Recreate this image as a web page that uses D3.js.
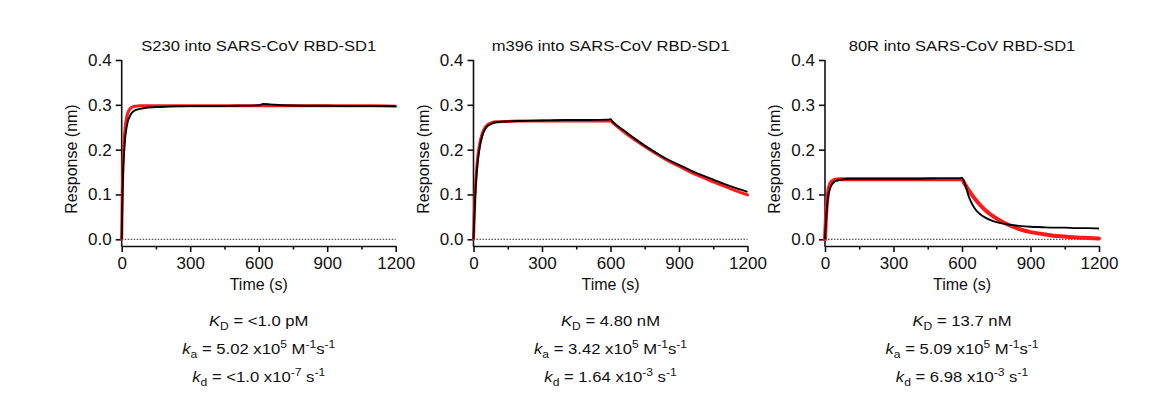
<!DOCTYPE html>
<html>
<head>
<meta charset="utf-8">
<script src="https://cdn.jsdelivr.net/npm/d3@7"></script>
<style>
  html, body { margin: 0; padding: 0; background: #fff; }
  svg { display: block; }
  text { font-family: "Liberation Sans", Arial, sans-serif; fill: #111; }
</style>
</head>
<body>
<svg id="chart" width="1169" height="417"></svg>
<script>
// ---------- data ----------
const panelTitles = [
  "S230 into SARS-CoV RBD-SD1",
  "m396 into SARS-CoV RBD-SD1",
  "80R into SARS-CoV RBD-SD1"
];
const timeTicks = [0, 300, 600, 900, 1200];
const timeMinorTicks = [150, 450, 750, 1050];
const responseTicks = [0, 0.1, 0.2, 0.3, 0.4];
const xTitle = "Time (s)";
const yTitle = "Response (nm)";

// S230
const s230Time = [0,3,6,10,15,20,25,30,40,50,60,80,100,150,200,300,400,500,600,620,650,700,800,900,1000,1100,1200];
const s230Measured = [0,0.09,0.15,0.19,0.225,0.245,0.259,0.268,0.279,0.285,0.288,0.291,0.293,0.295,0.296,0.297,0.297,0.298,0.299,0.302,0.301,0.299,0.298,0.298,0.297,0.297,0.297];
const s230Fit = [0,0.11,0.17,0.215,0.248,0.267,0.279,0.286,0.293,0.296,0.297,0.298,0.298,0.298,0.298,0.298,0.298,0.298,0.298,0.298,0.298,0.298,0.298,0.298,0.298,0.298,0.297];

// m396
const m396Time = [0,3,6,10,15,20,30,40,50,60,80,100,150,200,300,400,500,590,600,610,650,700,750,800,850,900,950,1000,1050,1100,1150,1200];
const m396Measured = [0,0.04,0.08,0.12,0.155,0.18,0.213,0.233,0.245,0.252,0.258,0.261,0.263,0.264,0.265,0.266,0.266,0.267,0.268,0.262,0.246,0.227,0.209,0.193,0.178,0.166,0.154,0.143,0.133,0.123,0.114,0.106];
const m396Fit = [0,0.05,0.09,0.13,0.165,0.19,0.22,0.238,0.249,0.255,0.26,0.262,0.263,0.264,0.264,0.264,0.264,0.264,0.264,0.26,0.243,0.224,0.207,0.191,0.176,0.163,0.15,0.139,0.128,0.118,0.108,0.099];

// 80R
const r80Time = [0,3,6,10,15,20,30,40,50,60,80,100,200,300,400,500,590,600,610,620,630,645,660,680,700,740,800,850,900,950,1000,1050,1100,1150,1200];
const r80Measured = [0,0.03,0.055,0.08,0.1,0.11,0.122,0.128,0.131,0.132,0.134,0.135,0.135,0.135,0.135,0.136,0.136,0.137,0.128,0.112,0.095,0.078,0.066,0.056,0.049,0.04,0.033,0.03,0.028,0.027,0.026,0.026,0.025,0.025,0.024];
const r80Fit = [0,0.035,0.065,0.09,0.11,0.12,0.129,0.132,0.133,0.134,0.134,0.134,0.134,0.134,0.134,0.134,0.134,0.134,0.125,0.117,0.109,0.098,0.088,0.076,0.066,0.05,0.033,0.023,0.016,0.012,0.008,0.006,0.004,0.003,0.002];

// kinetic constants
const KD = ["<1.0 pM", "4.80 nM", "13.7 nM"];
const kaMantissa = ["5.02", "3.42", "5.09"];
const kaExponent = ["5", "5", "5"];
const kdMantissa = ["<1.0", "1.64", "6.98"];
const kdExponent = ["-7", "-3", "-3"];

// ---------- layout ----------
const panelLeft = [121.7, 473.5, 825];
const plotW = 274;
const yTop = 60, yZero = 239.3, xAxisY = 246;
const fitWidths = [3, 3, 4];

const svg = d3.select("#chart");

const panels = [
  { t: s230Time, m: s230Measured, f: s230Fit },
  { t: m396Time, m: m396Measured, f: m396Fit },
  { t: r80Time, m: r80Measured, f: r80Fit }
];

panels.forEach((p, i) => {
  const x = d3.scaleLinear().domain([0, 1200]).range([panelLeft[i], panelLeft[i] + plotW]);
  const y = d3.scaleLinear().domain([0, 0.4]).range([yZero, yTop]);
  const g = svg.append("g");
  const cx = (x(0) + x(1200)) / 2;

  // title
  g.append("text")
    .attr("transform", `translate(${cx},51) scale(1.07,1)`)
    .attr("text-anchor", "middle")
    .style("font-size", "15.5px")
    .text(panelTitles[i]);

  // dotted zero baseline
  g.append("line")
    .attr("x1", x(0)).attr("x2", x(1200))
    .attr("y1", y(0)).attr("y2", y(0))
    .attr("stroke", "#555").attr("stroke-width", 1.3)
    .attr("stroke-dasharray", "1.5,1.5");

  // x axis
  const xa = g.append("g").attr("transform", `translate(0,${xAxisY})`)
    .call(d3.axisBottom(x).tickValues(timeTicks).tickSize(6).tickSizeOuter(0).tickPadding(5).tickFormat(d3.format("d")));
  xa.select(".domain").attr("stroke", "#111").attr("stroke-width", 1.6);
  xa.selectAll(".tick line").attr("stroke", "#111").attr("stroke-width", 1.6);
  xa.selectAll(".tick text").style("font-size", "17px").attr("fill", "#111")
    .attr("font-family", null);
  const xm = g.append("g").attr("transform", `translate(0,${xAxisY})`)
    .call(d3.axisBottom(x).tickValues(timeMinorTicks).tickSize(3.5).tickFormat(""));
  xm.select(".domain").remove();
  xm.selectAll(".tick line").attr("stroke", "#111").attr("stroke-width", 1.6);

  // y axis
  const ya = g.append("g").attr("transform", `translate(${x(0)},0)`)
    .call(d3.axisLeft(y).tickValues(responseTicks).tickSize(6).tickPadding(4).tickFormat(d3.format(".1f")));
  ya.select(".domain").remove();
  ya.selectAll(".tick line").attr("stroke", "#111").attr("stroke-width", 1.6);
  ya.selectAll(".tick text").style("font-size", "17px").attr("fill", "#111");
  g.append("line")
    .attr("x1", x(0)).attr("x2", x(0))
    .attr("y1", y(0.4)).attr("y2", xAxisY + 0.8)
    .attr("stroke", "#111").attr("stroke-width", 1.6);

  // axis titles
  g.append("text")
    .attr("x", cx).attr("y", 290)
    .attr("text-anchor", "middle")
    .style("font-size", "16px")
    .text(xTitle);
  g.append("text")
    .attr("transform", `translate(${x(0) - 45},159) rotate(-90)`)
    .attr("text-anchor", "middle")
    .style("font-size", "16px")
    .text(yTitle);

  // curves
  const line = d3.line()
    .x(d => x(d[0])).y(d => y(d[1]))
    .curve(d3.curveMonotoneX);
  const fitPts = p.t.map((t, k) => [t, p.f[k]]);
  const measPts = p.t.map((t, k) => [t, p.m[k]]);
  g.append("path").attr("d", line(fitPts))
    .attr("fill", "none").attr("stroke", "#ff1a1a").attr("stroke-width", fitWidths[i])
    .attr("stroke-linejoin", "round").attr("stroke-linecap", "round");
  g.append("path").attr("d", line(measPts))
    .attr("fill", "none").attr("stroke", "#000").attr("stroke-width", 1.9)
    .attr("stroke-linejoin", "round");

  // kinetic annotations
  const ann = g.append("g").style("font-size", "14.5px");
  const t1 = ann.append("text").attr("text-anchor", "middle")
    .attr("transform", `translate(${cx},326) scale(1.15,1)`);
  t1.append("tspan").style("font-style", "italic").text("K");
  t1.append("tspan").attr("dy", 3.5).style("font-size", "10.5px").text("D");
  t1.append("tspan").attr("dy", -3.5).text(" = " + KD[i]);

  const t2 = ann.append("text").attr("text-anchor", "middle")
    .attr("transform", `translate(${cx},354) scale(1.15,1)`);
  t2.append("tspan").style("font-style", "italic").text("k");
  t2.append("tspan").attr("dy", 3.5).style("font-size", "10.5px").text("a");
  t2.append("tspan").attr("dy", -3.5).text(" = " + kaMantissa[i] + " x10");
  t2.append("tspan").attr("dy", -6).style("font-size", "10.5px").text(kaExponent[i]);
  t2.append("tspan").attr("dy", 6).text(" M");
  t2.append("tspan").attr("dy", -6).style("font-size", "10.5px").text("-1");
  t2.append("tspan").attr("dy", 6).text("s");
  t2.append("tspan").attr("dy", -6).style("font-size", "10.5px").text("-1");

  const t3 = ann.append("text").attr("text-anchor", "middle")
    .attr("transform", `translate(${cx},382) scale(1.15,1)`);
  t3.append("tspan").style("font-style", "italic").text("k");
  t3.append("tspan").attr("dy", 3.5).style("font-size", "10.5px").text("d");
  t3.append("tspan").attr("dy", -3.5).text(" = " + kdMantissa[i] + " x10");
  t3.append("tspan").attr("dy", -6).style("font-size", "10.5px").text(kdExponent[i]);
  t3.append("tspan").attr("dy", 6).text(" s");
  t3.append("tspan").attr("dy", -6).style("font-size", "10.5px").text("-1");
});
</script>
</body>
</html>
